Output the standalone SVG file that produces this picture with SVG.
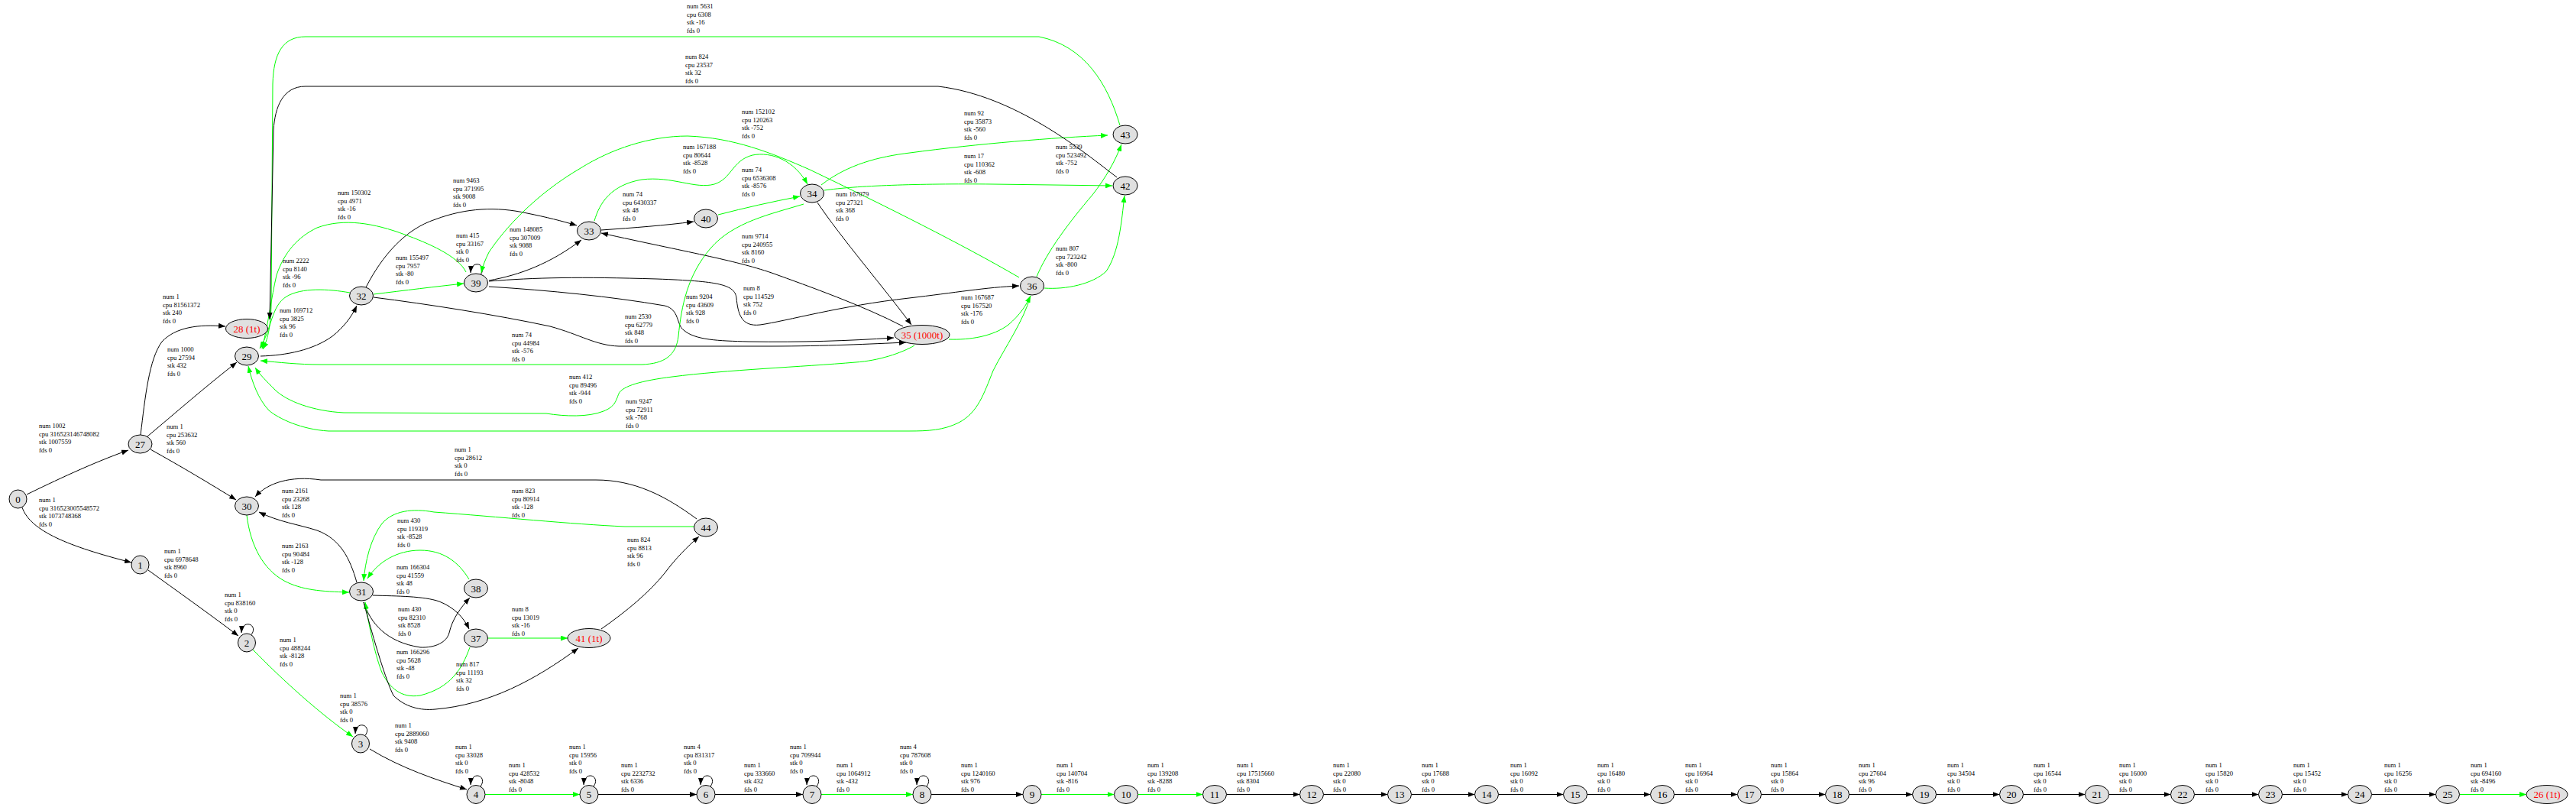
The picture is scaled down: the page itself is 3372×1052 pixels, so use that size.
<svg xmlns="http://www.w3.org/2000/svg" width="3372" height="1052" viewBox="0 0 3372 1052">
<style>
.n ellipse{fill:#e0e0e0;stroke:#000;stroke-width:1}
.n text{font-family:"Liberation Serif",serif;font-size:13px;text-anchor:middle;fill:#000}
.n text.r{fill:#ff0000}
.e path{fill:none;stroke-width:1}
.b{stroke:#000;marker-end:url(#ab)}
.g{stroke:#00ff00;marker-end:url(#ag)}
.l{font-family:"Liberation Serif",serif;font-size:8.6px;fill:#000}
</style>
<defs>
<marker id="ab" viewBox="0 0 9 7" refX="9" refY="3.5" markerWidth="9" markerHeight="7" markerUnits="userSpaceOnUse" orient="auto"><path d="M0,0 L9,3.5 L0,7 z" fill="#000"/></marker>
<marker id="ag" viewBox="0 0 9 7" refX="9" refY="3.5" markerWidth="9" markerHeight="7" markerUnits="userSpaceOnUse" orient="auto"><path d="M0,0 L9,3.5 L0,7 z" fill="#00ff00"/></marker>
</defs>
<rect width="3372" height="1052" fill="#fff"/>
<g id="edges" class="e">
<path class="b" d="M35,647 C70,630 120,606 168,589"/>
<path class="b" d="M29,664 C40,695 90,715 172,736"/>
<path class="b" d="M184,569 C190,520 195,470 212,447 C230,428 260,424 295,427"/>
<path class="b" d="M193,571 C230,540 270,505 310,474"/>
<path class="b" d="M197,588 C240,612 275,633 309,654"/>
<path class="b" d="M194,746 C230,772 275,804 312,832"/>
<path class="b" d="M329,830.5 C339,817 317,809 316,828"/>
<path class="g" d="M331,850 C370,890 420,935 462,964"/>
<path class="b" d="M478,962.5 C488,949 466,941 465,960"/>
<path class="b" d="M484,980 C525,1005 570,1020 611,1033"/>
<path class="b" d="M629,1029 C639,1015 617,1007 616,1027"/>
<path class="b" d="M777,1029 C787,1015 765,1007 764,1027"/>
<path class="b" d="M930,1029 C940,1015 918,1007 917,1027"/>
<path class="b" d="M1069,1029 C1079,1015 1057,1007 1056,1027"/>
<path class="b" d="M1213,1029 C1223,1015 1201,1007 1200,1027"/>
<path class="g" d="M635,1039.5 L759,1039.5"/>
<path class="b" d="M783,1039.5 L912,1039.5"/>
<path class="b" d="M936,1039.5 L1051,1039.5"/>
<path class="g" d="M1075,1039.5 L1195,1039.5"/>
<path class="b" d="M1219,1039.5 L1339,1039.5"/>
<path class="g" d="M1363,1039.5 L1458.5,1039.5"/>
<path class="g" d="M1489.5,1039.5 L1574.5,1039.5"/>
<path class="b" d="M1605.5,1039.5 L1701.5,1039.5"/>
<path class="b" d="M1732.5,1039.5 L1816.5,1039.5"/>
<path class="b" d="M1847.5,1039.5 L1930.5,1039.5"/>
<path class="b" d="M1961.5,1039.5 L2046.5,1039.5"/>
<path class="b" d="M2077.5,1039.5 L2160.5,1039.5"/>
<path class="b" d="M2191.5,1039.5 L2274.5,1039.5"/>
<path class="b" d="M2305.5,1039.5 L2389.5,1039.5"/>
<path class="b" d="M2420.5,1039.5 L2503.5,1039.5"/>
<path class="b" d="M2534.5,1039.5 L2617.5,1039.5"/>
<path class="b" d="M2648.5,1039.5 L2729.5,1039.5"/>
<path class="b" d="M2760.5,1039.5 L2841.5,1039.5"/>
<path class="b" d="M2872.5,1039.5 L2956.5,1039.5"/>
<path class="b" d="M2987.5,1039.5 L3073.5,1039.5"/>
<path class="b" d="M3104.5,1039.5 L3188.5,1039.5"/>
<path class="g" d="M3219.5,1039.5 L3307,1039.5"/>
<path class="g" d="M323,674 C328,715 345,745 372,760 C395,772 420,774 457,775"/>
<path class="b" d="M467,762 C458,730 445,705 415,694 C390,686 365,683 339,670"/>
<path class="b" d="M912,679 C870,648 830,628 780,628 L420,628 C380,622 350,632 334,650"/>
<path class="g" d="M909,689 L818,689 C750,686 650,676 568,670 C540,665 515,668 500,685 C485,705 478,735 476,760"/>
<path class="g" d="M614,758 C600,735 580,720 550,720 C520,720 495,735 481,757"/>
<path class="b" d="M488,779 C520,780 555,780 575,787 C595,795 607,808 614,823"/>
<path class="b" d="M476,788 C485,815 505,840 550,847 C570,848 585,840 588,828 C592,810 603,795 615,782"/>
<path class="g" d="M615,847 C605,875 590,900 550,910 C525,914 510,900 500,880 C492,860 484,825 478,788"/>
<path class="b" d="M476,788 C490,840 505,890 515,910 C530,925 550,930 570,928 C640,922 700,890 757,848"/>
<path class="g" d="M639,835 L743,835"/>
<path class="b" d="M787,823 C820,800 850,775 870,750 C885,730 900,715 915,702"/>
<path class="b" d="M341,466 C375,465 410,458 435,440 C450,428 460,415 467,400"/>
<path class="g" d="M458,383 C430,378 395,376 375,388 C355,400 356,430 340,456"/>
<path class="g" d="M489,385 C530,380 570,375 607,371"/>
<path class="b" d="M629,359.5 C639,346 617,338 616,357"/>
<path class="b" d="M640,367 C680,360 720,345 761,314"/>
<path class="b" d="M479,376 C500,335 530,300 570,287 C610,272 650,270 690,279 C715,284 735,289 755,295"/>
<path class="b" d="M787,301 C830,298 870,295 908,290"/>
<path class="g" d="M940,281 C975,272 1010,264 1047,257"/>
<path class="g" d="M778,289 C785,265 800,242 840,235 C880,230 910,248 935,241 C958,234 958,210 985,203 C1010,198 1040,210 1057,241"/>
<path class="b" d="M1182,427 C1130,400 1060,375 1010,357 C960,340 900,330 787,305"/>
<path class="b" d="M1070,265 C1100,310 1160,380 1193,425"/>
<path class="g" d="M1075,242 C1110,215 1150,205 1191,200 C1280,188 1380,180 1450,177"/>
<path class="g" d="M1079,249 C1120,243 1200,240 1300,241 L1456,243"/>
<path class="g" d="M1357,362 C1370,330 1400,290 1430,255 C1448,232 1460,210 1468,189"/>
<path class="g" d="M1367,377 C1395,379 1430,372 1448,355 C1465,330 1468,290 1472,256"/>
<path class="g" d="M1242,444 C1270,445 1300,440 1320,425 C1335,412 1343,400 1349,387"/>
<path class="b" d="M640,368 C700,363 760,362 860,365 C940,368 962,372 964,390 C966,410 970,428 995,425 C1030,420 1100,400 1190,390 C1250,383 1290,376 1334,374"/>
<path class="b" d="M640,375 C720,380 800,388 870,400 C890,405 885,425 895,432 C910,445 940,446 980,447 C1050,448 1110,446 1170,442"/>
<path class="b" d="M489,389 C560,398 650,412 720,427 C760,438 780,452 810,453 L1010,453 C1080,453 1140,450 1186,448"/>
<path class="g" d="M1052,267 C1010,280 960,290 930,325 C900,360 892,400 888,440 C885,465 870,476 840,477 L420,477 C390,477 365,474 341,472"/>
<path class="g" d="M1197,452 C1180,462 1150,472 1120,474 C1050,480 950,484 880,493 C840,498 815,505 810,515 C806,525 805,532 790,538 C770,546 740,545 715,541 L450,540 C410,538 375,525 360,510 C348,498 340,490 334,481"/>
<path class="g" d="M1349,387 C1340,420 1315,455 1300,485 C1288,515 1280,540 1255,553 C1235,563 1215,564 1190,564 L430,564 C395,562 365,548 352,537 C338,522 330,500 325,479"/>
<path class="g" d="M1334,363 C1260,320 1160,270 1060,222 C1010,200 960,180 900,178 C850,178 800,195 760,220 C700,255 660,300 640,330 C635,340 632,348 630,357"/>
<path class="g" d="M610,356 C600,335 560,318 530,307 C490,292 450,285 415,298 C390,310 372,330 362,360 C355,390 352,420 343,456"/>
<path class="g" d="M1466,164 C1450,110 1420,60 1360,48 L400,48 C370,48 358,70 357,110 L355,400 C354,430 350,445 344,457"/>
<path class="b" d="M1462,232 C1420,200 1330,125 1228,113 L400,113 C370,113 360,140 358,170 L353,418"/>
</g>
<g id="labels" class="l">
<text x="51" y="560"><tspan x="51">num 1002</tspan><tspan x="51" dy="10.7">cpu 316523146748082</tspan><tspan x="51" dy="10.7">stk 1007559</tspan><tspan x="51" dy="10.7">fds 0</tspan></text>
<text x="51" y="657"><tspan x="51">num 1</tspan><tspan x="51" dy="10.7">cpu 316523005548572</tspan><tspan x="51" dy="10.7">stk 1073748368</tspan><tspan x="51" dy="10.7">fds 0</tspan></text>
<text x="213" y="391"><tspan x="213">num 1</tspan><tspan x="213" dy="10.7">cpu 81561372</tspan><tspan x="213" dy="10.7">stk 240</tspan><tspan x="213" dy="10.7">fds 0</tspan></text>
<text x="219" y="460"><tspan x="219">num 1000</tspan><tspan x="219" dy="10.7">cpu 27594</tspan><tspan x="219" dy="10.7">stk 432</tspan><tspan x="219" dy="10.7">fds 0</tspan></text>
<text x="218" y="561"><tspan x="218">num 1</tspan><tspan x="218" dy="10.7">cpu 253632</tspan><tspan x="218" dy="10.7">stk 560</tspan><tspan x="218" dy="10.7">fds 0</tspan></text>
<text x="215" y="724"><tspan x="215">num 1</tspan><tspan x="215" dy="10.7">cpu 6978648</tspan><tspan x="215" dy="10.7">stk 8960</tspan><tspan x="215" dy="10.7">fds 0</tspan></text>
<text x="294" y="781"><tspan x="294">num 1</tspan><tspan x="294" dy="10.7">cpu 838160</tspan><tspan x="294" dy="10.7">stk 0</tspan><tspan x="294" dy="10.7">fds 0</tspan></text>
<text x="366" y="840"><tspan x="366">num 1</tspan><tspan x="366" dy="10.7">cpu 488244</tspan><tspan x="366" dy="10.7">stk -8128</tspan><tspan x="366" dy="10.7">fds 0</tspan></text>
<text x="445" y="913"><tspan x="445">num 1</tspan><tspan x="445" dy="10.7">cpu 38576</tspan><tspan x="445" dy="10.7">stk 0</tspan><tspan x="445" dy="10.7">fds 0</tspan></text>
<text x="517" y="952"><tspan x="517">num 1</tspan><tspan x="517" dy="10.7">cpu 2889060</tspan><tspan x="517" dy="10.7">stk 9408</tspan><tspan x="517" dy="10.7">fds 0</tspan></text>
<text x="596" y="980"><tspan x="596">num 1</tspan><tspan x="596" dy="10.7">cpu 33028</tspan><tspan x="596" dy="10.7">stk 0</tspan><tspan x="596" dy="10.7">fds 0</tspan></text>
<text x="666" y="1004"><tspan x="666">num 1</tspan><tspan x="666" dy="10.7">cpu 428532</tspan><tspan x="666" dy="10.7">stk -8048</tspan><tspan x="666" dy="10.7">fds 0</tspan></text>
<text x="745" y="980"><tspan x="745">num 1</tspan><tspan x="745" dy="10.7">cpu 15956</tspan><tspan x="745" dy="10.7">stk 0</tspan><tspan x="745" dy="10.7">fds 0</tspan></text>
<text x="813" y="1004"><tspan x="813">num 1</tspan><tspan x="813" dy="10.7">cpu 2232732</tspan><tspan x="813" dy="10.7">stk 6336</tspan><tspan x="813" dy="10.7">fds 0</tspan></text>
<text x="895" y="980"><tspan x="895">num 4</tspan><tspan x="895" dy="10.7">cpu 831317</tspan><tspan x="895" dy="10.7">stk 0</tspan><tspan x="895" dy="10.7">fds 0</tspan></text>
<text x="974" y="1004"><tspan x="974">num 1</tspan><tspan x="974" dy="10.7">cpu 333660</tspan><tspan x="974" dy="10.7">stk 432</tspan><tspan x="974" dy="10.7">fds 0</tspan></text>
<text x="1034" y="980"><tspan x="1034">num 1</tspan><tspan x="1034" dy="10.7">cpu 709944</tspan><tspan x="1034" dy="10.7">stk 0</tspan><tspan x="1034" dy="10.7">fds 0</tspan></text>
<text x="1095" y="1004"><tspan x="1095">num 1</tspan><tspan x="1095" dy="10.7">cpu 1064912</tspan><tspan x="1095" dy="10.7">stk -432</tspan><tspan x="1095" dy="10.7">fds 0</tspan></text>
<text x="1178" y="980"><tspan x="1178">num 4</tspan><tspan x="1178" dy="10.7">cpu 787608</tspan><tspan x="1178" dy="10.7">stk 0</tspan><tspan x="1178" dy="10.7">fds 0</tspan></text>
<text x="1258" y="1004"><tspan x="1258">num 1</tspan><tspan x="1258" dy="10.7">cpu 1240160</tspan><tspan x="1258" dy="10.7">stk 976</tspan><tspan x="1258" dy="10.7">fds 0</tspan></text>
<text x="1383" y="1004"><tspan x="1383">num 1</tspan><tspan x="1383" dy="10.7">cpu 140704</tspan><tspan x="1383" dy="10.7">stk -816</tspan><tspan x="1383" dy="10.7">fds 0</tspan></text>
<text x="1502" y="1004"><tspan x="1502">num 1</tspan><tspan x="1502" dy="10.7">cpu 139208</tspan><tspan x="1502" dy="10.7">stk -8288</tspan><tspan x="1502" dy="10.7">fds 0</tspan></text>
<text x="1619" y="1004"><tspan x="1619">num 1</tspan><tspan x="1619" dy="10.7">cpu 17515660</tspan><tspan x="1619" dy="10.7">stk 8304</tspan><tspan x="1619" dy="10.7">fds 0</tspan></text>
<text x="1745" y="1004"><tspan x="1745">num 1</tspan><tspan x="1745" dy="10.7">cpu 22080</tspan><tspan x="1745" dy="10.7">stk 0</tspan><tspan x="1745" dy="10.7">fds 0</tspan></text>
<text x="1861" y="1004"><tspan x="1861">num 1</tspan><tspan x="1861" dy="10.7">cpu 17688</tspan><tspan x="1861" dy="10.7">stk 0</tspan><tspan x="1861" dy="10.7">fds 0</tspan></text>
<text x="1977" y="1004"><tspan x="1977">num 1</tspan><tspan x="1977" dy="10.7">cpu 16092</tspan><tspan x="1977" dy="10.7">stk 0</tspan><tspan x="1977" dy="10.7">fds 0</tspan></text>
<text x="2091" y="1004"><tspan x="2091">num 1</tspan><tspan x="2091" dy="10.7">cpu 16480</tspan><tspan x="2091" dy="10.7">stk 0</tspan><tspan x="2091" dy="10.7">fds 0</tspan></text>
<text x="2206" y="1004"><tspan x="2206">num 1</tspan><tspan x="2206" dy="10.7">cpu 16964</tspan><tspan x="2206" dy="10.7">stk 0</tspan><tspan x="2206" dy="10.7">fds 0</tspan></text>
<text x="2318" y="1004"><tspan x="2318">num 1</tspan><tspan x="2318" dy="10.7">cpu 15864</tspan><tspan x="2318" dy="10.7">stk 0</tspan><tspan x="2318" dy="10.7">fds 0</tspan></text>
<text x="2433" y="1004"><tspan x="2433">num 1</tspan><tspan x="2433" dy="10.7">cpu 27604</tspan><tspan x="2433" dy="10.7">stk 96</tspan><tspan x="2433" dy="10.7">fds 0</tspan></text>
<text x="2549" y="1004"><tspan x="2549">num 1</tspan><tspan x="2549" dy="10.7">cpu 34504</tspan><tspan x="2549" dy="10.7">stk 0</tspan><tspan x="2549" dy="10.7">fds 0</tspan></text>
<text x="2662" y="1004"><tspan x="2662">num 1</tspan><tspan x="2662" dy="10.7">cpu 16544</tspan><tspan x="2662" dy="10.7">stk 0</tspan><tspan x="2662" dy="10.7">fds 0</tspan></text>
<text x="2774" y="1004"><tspan x="2774">num 1</tspan><tspan x="2774" dy="10.7">cpu 16000</tspan><tspan x="2774" dy="10.7">stk 0</tspan><tspan x="2774" dy="10.7">fds 0</tspan></text>
<text x="2887" y="1004"><tspan x="2887">num 1</tspan><tspan x="2887" dy="10.7">cpu 15820</tspan><tspan x="2887" dy="10.7">stk 0</tspan><tspan x="2887" dy="10.7">fds 0</tspan></text>
<text x="3002" y="1004"><tspan x="3002">num 1</tspan><tspan x="3002" dy="10.7">cpu 15452</tspan><tspan x="3002" dy="10.7">stk 0</tspan><tspan x="3002" dy="10.7">fds 0</tspan></text>
<text x="3121" y="1004"><tspan x="3121">num 1</tspan><tspan x="3121" dy="10.7">cpu 16256</tspan><tspan x="3121" dy="10.7">stk 0</tspan><tspan x="3121" dy="10.7">fds 0</tspan></text>
<text x="3234" y="1004"><tspan x="3234">num 1</tspan><tspan x="3234" dy="10.7">cpu 694160</tspan><tspan x="3234" dy="10.7">stk -8496</tspan><tspan x="3234" dy="10.7">fds 0</tspan></text>
<text x="369" y="717"><tspan x="369">num 2163</tspan><tspan x="369" dy="10.7">cpu 90484</tspan><tspan x="369" dy="10.7">stk -128</tspan><tspan x="369" dy="10.7">fds 0</tspan></text>
<text x="369" y="645"><tspan x="369">num 2161</tspan><tspan x="369" dy="10.7">cpu 23268</tspan><tspan x="369" dy="10.7">stk 128</tspan><tspan x="369" dy="10.7">fds 0</tspan></text>
<text x="595" y="591"><tspan x="595">num 1</tspan><tspan x="595" dy="10.7">cpu 28612</tspan><tspan x="595" dy="10.7">stk 0</tspan><tspan x="595" dy="10.7">fds 0</tspan></text>
<text x="670" y="645"><tspan x="670">num 823</tspan><tspan x="670" dy="10.7">cpu 80914</tspan><tspan x="670" dy="10.7">stk -128</tspan><tspan x="670" dy="10.7">fds 0</tspan></text>
<text x="520" y="684"><tspan x="520">num 430</tspan><tspan x="520" dy="10.7">cpu 119319</tspan><tspan x="520" dy="10.7">stk -8528</tspan><tspan x="520" dy="10.7">fds 0</tspan></text>
<text x="519" y="745"><tspan x="519">num 166304</tspan><tspan x="519" dy="10.7">cpu 41559</tspan><tspan x="519" dy="10.7">stk 48</tspan><tspan x="519" dy="10.7">fds 0</tspan></text>
<text x="521" y="800"><tspan x="521">num 430</tspan><tspan x="521" dy="10.7">cpu 82310</tspan><tspan x="521" dy="10.7">stk 8528</tspan><tspan x="521" dy="10.7">fds 0</tspan></text>
<text x="519" y="856"><tspan x="519">num 166296</tspan><tspan x="519" dy="10.7">cpu 5628</tspan><tspan x="519" dy="10.7">stk -48</tspan><tspan x="519" dy="10.7">fds 0</tspan></text>
<text x="597" y="872"><tspan x="597">num 817</tspan><tspan x="597" dy="10.7">cpu 11193</tspan><tspan x="597" dy="10.7">stk 32</tspan><tspan x="597" dy="10.7">fds 0</tspan></text>
<text x="670" y="800"><tspan x="670">num 8</tspan><tspan x="670" dy="10.7">cpu 13019</tspan><tspan x="670" dy="10.7">stk -16</tspan><tspan x="670" dy="10.7">fds 0</tspan></text>
<text x="821" y="709"><tspan x="821">num 824</tspan><tspan x="821" dy="10.7">cpu 8813</tspan><tspan x="821" dy="10.7">stk 96</tspan><tspan x="821" dy="10.7">fds 0</tspan></text>
<text x="366" y="409"><tspan x="366">num 169712</tspan><tspan x="366" dy="10.7">cpu 3825</tspan><tspan x="366" dy="10.7">stk 96</tspan><tspan x="366" dy="10.7">fds 0</tspan></text>
<text x="370" y="344"><tspan x="370">num 2222</tspan><tspan x="370" dy="10.7">cpu 8140</tspan><tspan x="370" dy="10.7">stk -96</tspan><tspan x="370" dy="10.7">fds 0</tspan></text>
<text x="518" y="340"><tspan x="518">num 155497</tspan><tspan x="518" dy="10.7">cpu 7957</tspan><tspan x="518" dy="10.7">stk -80</tspan><tspan x="518" dy="10.7">fds 0</tspan></text>
<text x="597" y="311"><tspan x="597">num 415</tspan><tspan x="597" dy="10.7">cpu 33167</tspan><tspan x="597" dy="10.7">stk 0</tspan><tspan x="597" dy="10.7">fds 0</tspan></text>
<text x="667" y="303"><tspan x="667">num 148085</tspan><tspan x="667" dy="10.7">cpu 307009</tspan><tspan x="667" dy="10.7">stk 9088</tspan><tspan x="667" dy="10.7">fds 0</tspan></text>
<text x="593" y="239"><tspan x="593">num 9463</tspan><tspan x="593" dy="10.7">cpu 371995</tspan><tspan x="593" dy="10.7">stk 9008</tspan><tspan x="593" dy="10.7">fds 0</tspan></text>
<text x="815" y="257"><tspan x="815">num 74</tspan><tspan x="815" dy="10.7">cpu 6430337</tspan><tspan x="815" dy="10.7">stk 48</tspan><tspan x="815" dy="10.7">fds 0</tspan></text>
<text x="971" y="225"><tspan x="971">num 74</tspan><tspan x="971" dy="10.7">cpu 6536308</tspan><tspan x="971" dy="10.7">stk -8576</tspan><tspan x="971" dy="10.7">fds 0</tspan></text>
<text x="894" y="195"><tspan x="894">num 167188</tspan><tspan x="894" dy="10.7">cpu 80644</tspan><tspan x="894" dy="10.7">stk -8528</tspan><tspan x="894" dy="10.7">fds 0</tspan></text>
<text x="971" y="312"><tspan x="971">num 9714</tspan><tspan x="971" dy="10.7">cpu 240955</tspan><tspan x="971" dy="10.7">stk 8160</tspan><tspan x="971" dy="10.7">fds 0</tspan></text>
<text x="1094" y="257"><tspan x="1094">num 167079</tspan><tspan x="1094" dy="10.7">cpu 27321</tspan><tspan x="1094" dy="10.7">stk 368</tspan><tspan x="1094" dy="10.7">fds 0</tspan></text>
<text x="1262" y="151"><tspan x="1262">num 92</tspan><tspan x="1262" dy="10.7">cpu 35873</tspan><tspan x="1262" dy="10.7">stk -560</tspan><tspan x="1262" dy="10.7">fds 0</tspan></text>
<text x="1262" y="207"><tspan x="1262">num 17</tspan><tspan x="1262" dy="10.7">cpu 110362</tspan><tspan x="1262" dy="10.7">stk -608</tspan><tspan x="1262" dy="10.7">fds 0</tspan></text>
<text x="1382" y="195"><tspan x="1382">num 5539</tspan><tspan x="1382" dy="10.7">cpu 523492</tspan><tspan x="1382" dy="10.7">stk -752</tspan><tspan x="1382" dy="10.7">fds 0</tspan></text>
<text x="1382" y="328"><tspan x="1382">num 807</tspan><tspan x="1382" dy="10.7">cpu 723242</tspan><tspan x="1382" dy="10.7">stk -800</tspan><tspan x="1382" dy="10.7">fds 0</tspan></text>
<text x="1258" y="392"><tspan x="1258">num 167687</tspan><tspan x="1258" dy="10.7">cpu 167520</tspan><tspan x="1258" dy="10.7">stk -176</tspan><tspan x="1258" dy="10.7">fds 0</tspan></text>
<text x="973" y="380"><tspan x="973">num 8</tspan><tspan x="973" dy="10.7">cpu 114529</tspan><tspan x="973" dy="10.7">stk 752</tspan><tspan x="973" dy="10.7">fds 0</tspan></text>
<text x="898" y="391"><tspan x="898">num 9204</tspan><tspan x="898" dy="10.7">cpu 43609</tspan><tspan x="898" dy="10.7">stk 928</tspan><tspan x="898" dy="10.7">fds 0</tspan></text>
<text x="818" y="417"><tspan x="818">num 2530</tspan><tspan x="818" dy="10.7">cpu 62779</tspan><tspan x="818" dy="10.7">stk 848</tspan><tspan x="818" dy="10.7">fds 0</tspan></text>
<text x="670" y="441"><tspan x="670">num 74</tspan><tspan x="670" dy="10.7">cpu 44984</tspan><tspan x="670" dy="10.7">stk -576</tspan><tspan x="670" dy="10.7">fds 0</tspan></text>
<text x="745" y="496"><tspan x="745">num 412</tspan><tspan x="745" dy="10.7">cpu 89496</tspan><tspan x="745" dy="10.7">stk -944</tspan><tspan x="745" dy="10.7">fds 0</tspan></text>
<text x="819" y="528"><tspan x="819">num 9247</tspan><tspan x="819" dy="10.7">cpu 72911</tspan><tspan x="819" dy="10.7">stk -768</tspan><tspan x="819" dy="10.7">fds 0</tspan></text>
<text x="971" y="149"><tspan x="971">num 152102</tspan><tspan x="971" dy="10.7">cpu 120263</tspan><tspan x="971" dy="10.7">stk -752</tspan><tspan x="971" dy="10.7">fds 0</tspan></text>
<text x="442" y="255"><tspan x="442">num 150302</tspan><tspan x="442" dy="10.7">cpu 4971</tspan><tspan x="442" dy="10.7">stk -16</tspan><tspan x="442" dy="10.7">fds 0</tspan></text>
<text x="899" y="11"><tspan x="899">num 5631</tspan><tspan x="899" dy="10.7">cpu 6308</tspan><tspan x="899" dy="10.7">stk -16</tspan><tspan x="899" dy="10.7">fds 0</tspan></text>
<text x="897" y="77"><tspan x="897">num 824</tspan><tspan x="897" dy="10.7">cpu 23537</tspan><tspan x="897" dy="10.7">stk 32</tspan><tspan x="897" dy="10.7">fds 0</tspan></text>
</g>
<g id="n0" class="n"><ellipse cx="23.5" cy="653" rx="11.5" ry="12"/><text x="23.5" y="657.5">0</text></g>
<g id="n1" class="n"><ellipse cx="183.5" cy="739" rx="11.5" ry="12"/><text x="183.5" y="743.5">1</text></g>
<g id="n27" class="n"><ellipse cx="183.5" cy="581" rx="15.5" ry="12"/><text x="183.5" y="585.5">27</text></g>
<g id="n2" class="n"><ellipse cx="323" cy="841" rx="11.5" ry="12"/><text x="323" y="845.5">2</text></g>
<g id="n28" class="n"><ellipse cx="323" cy="430" rx="27.5" ry="12.5"/><text class="r" x="323" y="434.5">28 (1t)</text></g>
<g id="n29" class="n"><ellipse cx="323" cy="466" rx="15.5" ry="12"/><text x="323" y="470.5">29</text></g>
<g id="n30" class="n"><ellipse cx="323" cy="662" rx="15.5" ry="12"/><text x="323" y="666.5">30</text></g>
<g id="n3" class="n"><ellipse cx="472" cy="973" rx="11.5" ry="12"/><text x="472" y="977.5">3</text></g>
<g id="n31" class="n"><ellipse cx="473" cy="774" rx="15.5" ry="12"/><text x="473" y="778.5">31</text></g>
<g id="n32" class="n"><ellipse cx="473" cy="387" rx="15.5" ry="12"/><text x="473" y="391.5">32</text></g>
<g id="n4" class="n"><ellipse cx="623" cy="1039.5" rx="12" ry="12"/><text x="623" y="1044">4</text></g>
<g id="n37" class="n"><ellipse cx="623" cy="835" rx="15.5" ry="12"/><text x="623" y="839.5">37</text></g>
<g id="n38" class="n"><ellipse cx="623" cy="770" rx="15.5" ry="12"/><text x="623" y="774.5">38</text></g>
<g id="n39" class="n"><ellipse cx="623" cy="370" rx="15.5" ry="12"/><text x="623" y="374.5">39</text></g>
<g id="n5" class="n"><ellipse cx="771" cy="1039.5" rx="12" ry="12"/><text x="771" y="1044">5</text></g>
<g id="n33" class="n"><ellipse cx="771" cy="302" rx="15.5" ry="12"/><text x="771" y="306.5">33</text></g>
<g id="n41" class="n"><ellipse cx="771" cy="835" rx="28" ry="12.5"/><text class="r" x="771" y="839.5">41 (1t)</text></g>
<g id="n6" class="n"><ellipse cx="924" cy="1039.5" rx="12" ry="12"/><text x="924" y="1044">6</text></g>
<g id="n40" class="n"><ellipse cx="924" cy="286" rx="15.5" ry="12"/><text x="924" y="290.5">40</text></g>
<g id="n44" class="n"><ellipse cx="924" cy="690" rx="15.5" ry="12"/><text x="924" y="694.5">44</text></g>
<g id="n7" class="n"><ellipse cx="1063" cy="1039.5" rx="12" ry="12"/><text x="1063" y="1044">7</text></g>
<g id="n34" class="n"><ellipse cx="1063" cy="253" rx="15.5" ry="12"/><text x="1063" y="257.5">34</text></g>
<g id="n8" class="n"><ellipse cx="1207" cy="1039.5" rx="12" ry="12"/><text x="1207" y="1044">8</text></g>
<g id="n35" class="n"><ellipse cx="1207" cy="438" rx="36" ry="12.5"/><text class="r" x="1207" y="442.5">35 (1000t)</text></g>
<g id="n9" class="n"><ellipse cx="1351" cy="1039.5" rx="12" ry="12"/><text x="1351" y="1044">9</text></g>
<g id="n36" class="n"><ellipse cx="1351" cy="374" rx="15.5" ry="12"/><text x="1351" y="378.5">36</text></g>
<g id="n10" class="n"><ellipse cx="1474" cy="1039.5" rx="15.5" ry="12"/><text x="1474" y="1044">10</text></g>
<g id="n43" class="n"><ellipse cx="1473" cy="176" rx="16" ry="12"/><text x="1473" y="180.5">43</text></g>
<g id="n42" class="n"><ellipse cx="1473" cy="243" rx="16" ry="12"/><text x="1473" y="247.5">42</text></g>
<g id="n11" class="n"><ellipse cx="1590" cy="1039.5" rx="15.5" ry="12"/><text x="1590" y="1044">11</text></g>
<g id="n12" class="n"><ellipse cx="1717" cy="1039.5" rx="15.5" ry="12"/><text x="1717" y="1044">12</text></g>
<g id="n13" class="n"><ellipse cx="1832" cy="1039.5" rx="15.5" ry="12"/><text x="1832" y="1044">13</text></g>
<g id="n14" class="n"><ellipse cx="1946" cy="1039.5" rx="15.5" ry="12"/><text x="1946" y="1044">14</text></g>
<g id="n15" class="n"><ellipse cx="2062" cy="1039.5" rx="15.5" ry="12"/><text x="2062" y="1044">15</text></g>
<g id="n16" class="n"><ellipse cx="2176" cy="1039.5" rx="15.5" ry="12"/><text x="2176" y="1044">16</text></g>
<g id="n17" class="n"><ellipse cx="2290" cy="1039.5" rx="15.5" ry="12"/><text x="2290" y="1044">17</text></g>
<g id="n18" class="n"><ellipse cx="2405" cy="1039.5" rx="15.5" ry="12"/><text x="2405" y="1044">18</text></g>
<g id="n19" class="n"><ellipse cx="2519" cy="1039.5" rx="15.5" ry="12"/><text x="2519" y="1044">19</text></g>
<g id="n20" class="n"><ellipse cx="2633" cy="1039.5" rx="15.5" ry="12"/><text x="2633" y="1044">20</text></g>
<g id="n21" class="n"><ellipse cx="2745" cy="1039.5" rx="15.5" ry="12"/><text x="2745" y="1044">21</text></g>
<g id="n22" class="n"><ellipse cx="2857" cy="1039.5" rx="15.5" ry="12"/><text x="2857" y="1044">22</text></g>
<g id="n23" class="n"><ellipse cx="2972" cy="1039.5" rx="15.5" ry="12"/><text x="2972" y="1044">23</text></g>
<g id="n24" class="n"><ellipse cx="3089" cy="1039.5" rx="15.5" ry="12"/><text x="3089" y="1044">24</text></g>
<g id="n25" class="n"><ellipse cx="3204" cy="1039.5" rx="15.5" ry="12"/><text x="3204" y="1044">25</text></g>
<g id="n26" class="n"><ellipse cx="3334" cy="1039.5" rx="27" ry="12"/><text class="r" x="3334" y="1044">26 (1t)</text></g>
</svg>
